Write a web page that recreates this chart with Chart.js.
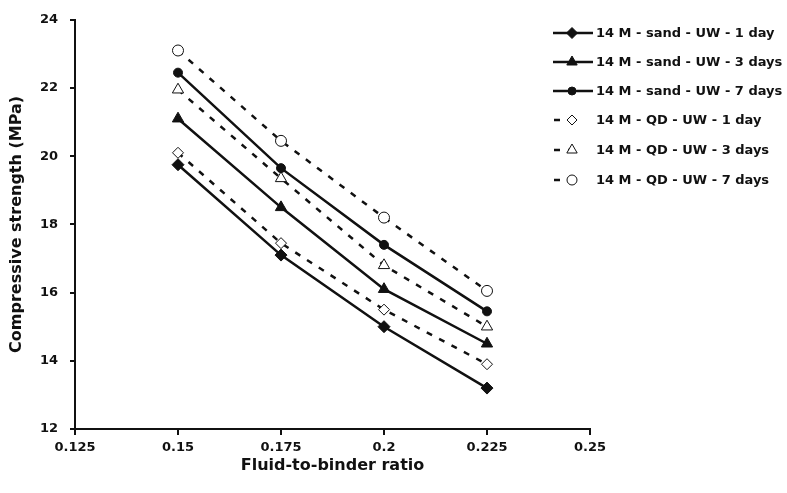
<!DOCTYPE html>
<html>
<head>
<meta charset="utf-8">
<script src="https://cdn.jsdelivr.net/npm/chart.js@4.4.0/dist/chart.umd.min.js"></script>
<style>
  html, body { margin: 0; padding: 0; background: #fff; }
  #wrap { width: 787px; height: 493px; position: relative; }
</style>
</head>
<body>
<div id="wrap"><canvas id="chart"></canvas></div>
<script>
// fluid-to-binder ratios
const ratios = [0.15, 0.175, 0.2, 0.225];

// compressive strength (MPa)
const sand1 = [19.75, 17.1, 15.0, 13.2];
const sand3 = [21.1, 18.5, 16.1, 14.5];
const sand7 = [22.45, 19.65, 17.4, 15.45];
const qd1 = [20.1, 17.45, 15.5, 13.9];
const qd3 = [21.95, 19.35, 16.8, 15.0];
const qd7 = [23.1, 20.45, 18.2, 16.05];

const labels = [
  '14 M - sand - UW - 1 day',
  '14 M - sand - UW - 3 days',
  '14 M - sand - UW - 7 days',
  '14 M - QD - UW - 1 day',
  '14 M - QD - UW - 3 days',
  '14 M - QD - UW - 7 days'
];

const xTicks = [0.125, 0.15, 0.175, 0.2, 0.225, 0.25];
const yTicks = [12, 14, 16, 18, 20, 22, 24];

const FONT = '"DejaVu Sans", Arial, sans-serif';

function pts(vals) {
  return vals.map((v, i) => ({ x: ratios[i], y: v }));
}

function solid(label, vals, style, r) {
  return {
    label: label, data: pts(vals),
    borderColor: '#111', borderWidth: 2.5,
    pointStyle: style, pointRadius: r,
    pointBackgroundColor: '#111', pointBorderColor: '#111', pointBorderWidth: 1
  };
}

function dashed(label, vals, style, r) {
  return {
    label: label, data: pts(vals),
    borderColor: '#111', borderWidth: 2.5, borderDash: [6, 8],
    pointStyle: style, pointRadius: r,
    pointBackgroundColor: '#fff', pointBorderColor: '#111', pointBorderWidth: 1
  };
}

const datasets = [
  solid(labels[0], sand1, 'rectRot', 6),
  solid(labels[1], sand3, 'triangle', 6.5),
  solid(labels[2], sand7, 'circle', 4.5),
  dashed(labels[3], qd1, 'rectRot', 5.5),
  dashed(labels[4], qd3, 'triangle', 6.5),
  dashed(labels[5], qd7, 'circle', 5.5)
];

// legend drawn by hand so the line sample shows with the marker
const sideLegend = {
  id: 'sideLegend',
  afterDraw(chart) {
    const ctx = chart.ctx;
    const rows = [33, 62, 91, 120, 150, 180];
    ctx.save();
    chart.data.datasets.forEach((ds, i) => {
      const y = rows[i];
      ctx.strokeStyle = ds.borderColor;
      ctx.lineWidth = ds.borderWidth;
      ctx.setLineDash(ds.borderDash || []);
      ctx.beginPath();
      if (ds.borderDash) { ctx.moveTo(554, y); ctx.lineTo(575, y); }
      else { ctx.moveTo(553, y); ctx.lineTo(593, y); }
      ctx.stroke();
      ctx.setLineDash([]);
      ctx.fillStyle = ds.pointBackgroundColor;
      ctx.strokeStyle = ds.pointBorderColor;
      ctx.lineWidth = ds.pointBorderWidth;
      Chart.helpers.drawPoint(ctx, {
        pointStyle: ds.pointStyle, radius: ds.pointRadius - 0.5, borderWidth: ds.pointBorderWidth
      }, 572, y);
      ctx.fillStyle = '#111';
      ctx.font = 'bold 13px ' + FONT;
      ctx.textAlign = 'left';
      ctx.textBaseline = 'middle';
      ctx.fillText(ds.label, 596, y + 1);
    });
    ctx.restore();
  }
};

new Chart(document.getElementById('chart'), {
  type: 'line',
  data: { datasets: datasets },
  plugins: [sideLegend],
  options: {
    responsive: true,
    maintainAspectRatio: false,
    animation: false,
    layout: { padding: { top: 15, right: 197, left: 0, bottom: 0 } },
    plugins: { legend: { display: false }, tooltip: { enabled: false } },
    scales: {
      x: {
        type: 'linear', min: 0.125, max: 0.25,
        afterBuildTicks: s => { s.ticks = xTicks.map(v => ({ value: v })); },
        afterFit: s => { s.height = 493 - 429; },
        border: { color: '#111', width: 2 },
        grid: { drawOnChartArea: false, color: '#111', tickLength: 6, lineWidth: 2 },
        ticks: {
          color: '#111', padding: 5,
          font: { family: FONT, size: 13, weight: 'bold' },
          callback: v => String(v)
        },
        title: {
          display: true, text: 'Fluid-to-binder ratio', color: '#111',
          font: { family: FONT, size: 16, weight: 'bold' },
          padding: { top: 8, bottom: 18 }
        }
      },
      y: {
        type: 'linear', min: 12, max: 24,
        afterBuildTicks: s => { s.ticks = yTicks.map(v => ({ value: v })); },
        afterFit: s => { s.width = 75; },
        border: { color: '#111', width: 2 },
        grid: { drawOnChartArea: false, color: '#111', tickLength: 5, lineWidth: 2 },
        ticks: {
          color: '#111', padding: 12,
          font: { family: FONT, size: 13, weight: 'bold' }
        },
        title: {
          display: true, text: 'Compressive strength (MPa)', color: '#111',
          font: { family: FONT, size: 16, weight: 'bold' },
          padding: { top: 7, bottom: 0 }
        }
      }
    }
  }
});
</script>
</body>
</html>
